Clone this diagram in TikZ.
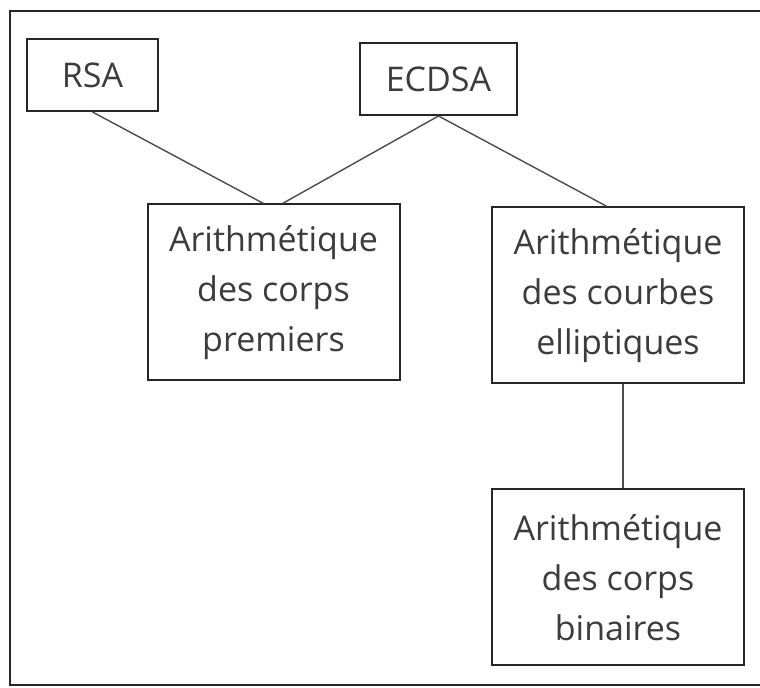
\documentclass[tikz,border=0pt]{standalone}
\usepackage{fontspec}
\setmainfont{Open Sans}
\usetikzlibrary{positioning, calc}
\definecolor{inkGray}{RGB}{60, 60, 60}

\begin{document}
\begin{tikzpicture}[
    x=0.5pt, y=-0.5pt,
    font=\fontsize{17}{25}\selectfont,
    % Styles
    box/.style={
        draw=black!85, line width=1pt, align=center, text=inkGray, inner sep=0pt
    },
    small_box/.style={
        box, minimum height=36pt
    },
    big_box/.style={
        box, minimum width=126pt, minimum height=88pt
    },
    link/.style={
        draw=black!70, line width=0.7pt
    },
    frame/.style={
        draw=black!85, line width=1pt
    }
]

    \useasboundingbox (0,0) rectangle (760,688);

    % --- Outer frame (open on the right) ---
    \draw[frame] (760,11) -- (10,11) -- (10,685) -- (760,685);

    % --- 1. Signature schemes ---
    \node[small_box, minimum width=65.5pt] (rsa) at (92.5,75) {RSA};
    \node[small_box, minimum width=78.5pt] (ecdsa) at (438.5,79) {ECDSA};

    % --- 2. Arithmetic layers ---
    \node[big_box] (premiers) at (273.5,292.5) {Arithmétique\\des corps\\premiers};
    \node[big_box] (courbes) at (618,295.5) {Arithmétique\\des courbes\\elliptiques};
    \node[big_box, below=52pt of courbes] (binaires) {Arithmétique\\des corps\\binaires};

    % --- Connections ---
    \draw[link] (rsa.south) -- ($(premiers.north)+(-10,0)$);
    \draw[link] (ecdsa.south) -- ($(premiers.north)+(9,0)$);
    \draw[link] (ecdsa.south) -- ($(courbes.north)+(-11,0)$);
    \draw[link] ($(courbes.south)+(5,0)$) -- ($(binaires.north)+(5,0)$);

\end{tikzpicture}
\end{document}
